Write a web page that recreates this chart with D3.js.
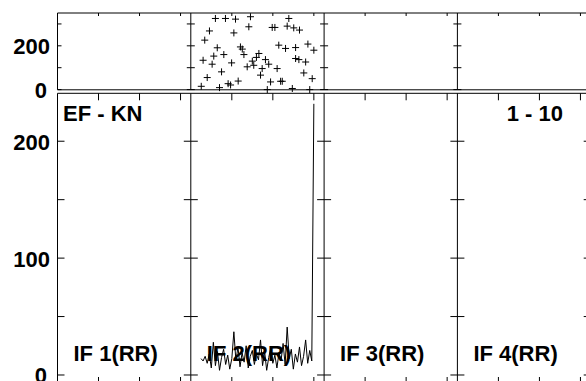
<!DOCTYPE html>
<html><head><meta charset="utf-8">
<script src="https://cdn.jsdelivr.net/npm/d3@7"></script>
<style>html,body{margin:0;padding:0;background:#fff;} svg{display:block}</style>
</head><body>
<svg id="c" width="586" height="381"></svg>
<script>
// ---- data ----
const ifLabels = ["IF 1(RR)", "IF 2(RR)", "IF 3(RR)", "IF 4(RR)"];
const baselineLabel = "EF - KN";
const rangeLabel = "1 - 10";
const channelTicks = [20, 40, 60];
const phaseTicks = [0, 100, 200, 300];
const phaseTickLabels = [0, 200];
const ampTicks = [0, 50, 100, 150, 200];
const ampTickLabels = [0, 100, 200];
const dataPanel = 1; // IF 2 holds the data

const phaseChannels = [12.0, 16.9, 21.8, 29.1, 28.3, 9.1, 21.0, 6.8, 12.9, 24.2, 25.1, 16.1, 11.2, 25.9,
  6.0, 10.4, 19.9, 33.2, 32.0, 30.0, 30.7, 27.5, 36.4, 38.0, 34.8, 42.1, 15.0, 34.0, 8.0, 5.1, 14.0,
  18.2, 19.4, 23.1, 37.3, 38.9, 44.6, 43.8, 49.5, 58.0, 59.2, 55.1, 56.0, 52.7, 51.1, 60.0, 57.1,
  51.1, 46.2, 42.9, 39.7, 41.0, 47.0, 50.2, 53.0, 47.8];
const phaseValues = [325, 325, 322, 333, 287, 268, 259, 226, 191, 195, 185, 160, 153, 160,
  134, 116, 122, 165, 147, 130, 111, 104, 137, 116, 96, 96, 81, 66, 55, 15, 9,
  27, 21, 39, 0, 35, 38, 38, 5, 0, 50, 76, 126, 137, 142, 180, 208,
  192, 188, 203, 284, 284, 290, 282, 272, 325];

const ampChannels = [5, 6, 7, 8, 9, 10, 11, 12, 13, 14, 15, 16, 17, 18, 19, 20, 21, 22, 23, 24, 25, 26, 27, 28,
  29, 30, 31, 32, 33, 34, 35, 36, 37, 38, 39, 40, 41, 42, 43, 44, 45, 46, 47, 48, 49, 50, 51, 52, 53, 54,
  55, 56, 57, 58, 59, 60];
const ampValues = [14, 12, 16, 10, 18, 6, 28, 8, 20, 4, 15, 22, 9, 17, 5, 14, 37, 12, 24, 7, 19, 11, 25, 6,
  16, 21, 9, 18, 13, 30, 8, 20, 4, 15, 23, 10, 17, 6, 19, 12, 27, 9, 41, 14, 22, 5, 18, 11, 24, 8,
  16, 30, 10, 21, 12, 232];

// ---- layout ----
const svg = d3.select("#c");
const nPanels = ifLabels.length;
const panelLeft = d3.scaleLinear().domain([0, nPanels]).range([57.5, 590.7]);
const panelW = panelLeft(1) - panelLeft(0);
const xFor = i => d3.scaleLinear().domain([0, 65]).range([panelLeft(i), panelLeft(i) + panelW]);

const yPh = d3.scaleLinear().domain([-1, 350]).range([89.8, 13]);
const yAmp = d3.scaleLinear().domain([-7.7, 241]).range([384, 93.3]);

const font = "'Liberation Sans', Arial, Helvetica, sans-serif";
const g = svg.append("g").attr("stroke", "#000").attr("fill", "none").attr("stroke-width", 1);

const topY0 = yPh.range()[1], topY1 = yPh.range()[0];
const botY0 = yAmp.range()[1], botY1 = yAmp.range()[0];
const xL = panelLeft(0), xR = panelLeft(nPanels);

// frames
g.append("line").attr("x1", xL).attr("x2", xR).attr("y1", topY0).attr("y2", topY0);
g.append("line").attr("x1", xL).attr("x2", xR).attr("y1", topY1).attr("y2", topY1);
g.append("line").attr("x1", xL).attr("x2", xR).attr("y1", botY0).attr("y2", botY0);
g.append("line").attr("x1", xL).attr("x2", xR).attr("y1", botY1).attr("y2", botY1);
for (let i = 0; i <= nPanels; i++) {
  const x = panelLeft(i);
  g.append("line").attr("x1", x).attr("x2", x).attr("y1", topY0).attr("y2", topY1);
  g.append("line").attr("x1", x).attr("x2", x).attr("y1", botY0).attr("y2", botY1);
}

// ticks
for (let i = 0; i < nPanels; i++) {
  const x = xFor(i);
  channelTicks.forEach(t => {
    g.append("line").attr("x1", x(t)).attr("x2", x(t)).attr("y1", topY0).attr("y2", topY0 + 3);
    g.append("line").attr("x1", x(t)).attr("x2", x(t)).attr("y1", botY0).attr("y2", botY0 + 7);
    g.append("line").attr("x1", x(t)).attr("x2", x(t)).attr("y1", botY1).attr("y2", botY1 - 7);
  });
  const l = panelLeft(i), r = panelLeft(i + 1);
  phaseTicks.forEach(t => {
    g.append("line").attr("x1", l).attr("x2", l + 4).attr("y1", yPh(t)).attr("y2", yPh(t));
    g.append("line").attr("x1", r).attr("x2", r - 4).attr("y1", yPh(t)).attr("y2", yPh(t));
  });
  ampTicks.forEach(t => {
    g.append("line").attr("x1", l).attr("x2", l + 7).attr("y1", yAmp(t)).attr("y2", yAmp(t));
    g.append("line").attr("x1", r).attr("x2", r - 7).attr("y1", yAmp(t)).attr("y2", yAmp(t));
  });
}

// data
const xd = xFor(dataPanel);
const phasePts = phaseChannels.map((c, i) => [c, phaseValues[i]]);
const s = 3.5;
g.selectAll(".ph").data(phasePts).enter().append("path")
  .attr("d", d => `M${xd(d[0]) - s},${yPh(d[1])}h${2 * s}M${xd(d[0])},${yPh(d[1]) - s}v${2 * s}`);

const ampPts = ampChannels.map((c, i) => [c, ampValues[i]]);
g.append("path").datum(ampPts)
  .attr("d", d3.line().x(d => xd(d[0])).y(d => yAmp(d[1])));

// text
const t = svg.append("g").attr("font-family", font).attr("font-weight", "bold").attr("font-size", 22).attr("fill", "#000");
phaseTickLabels.forEach(v => {
  t.append("text").attr("x", v === 0 ? 47 : 50).attr("y", yPh(v) + 8).attr("text-anchor", "end").text(v);
});
ampTickLabels.forEach(v => {
  t.append("text").attr("x", v === 0 ? 47 : 50).attr("y", yAmp(v) + 8.5).attr("text-anchor", "end").text(v);
});
t.append("text").attr("x", 63).attr("y", 121).text(baselineLabel);
t.append("text").attr("x", 563).attr("y", 121).attr("text-anchor", "end").text(rangeLabel);
ifLabels.forEach((lab, i) => {
  t.append("text").attr("x", panelLeft(i) + 16).attr("y", 361).text(lab);
});
</script>
</body></html>
